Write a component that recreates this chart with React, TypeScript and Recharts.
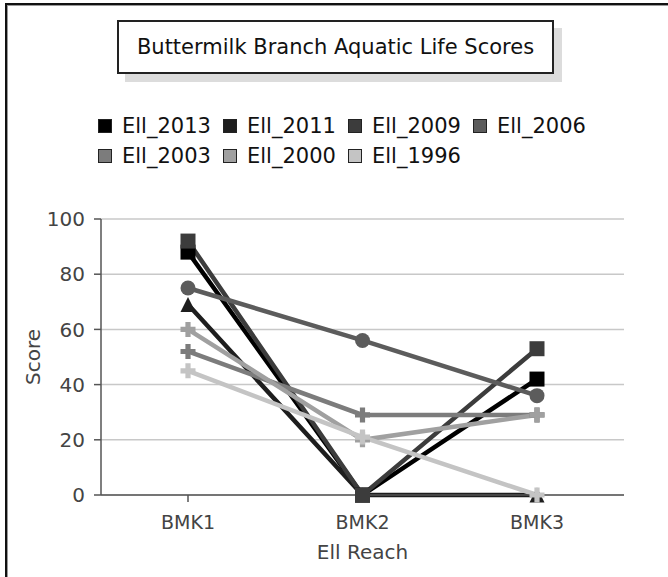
import React from 'react';
import { LineChart, Line, XAxis, YAxis, CartesianGrid, Legend } from 'recharts';

const categories = ['BMK1', 'BMK2', 'BMK3'];
const ell2013 = [88, 0, 42];
const ell2011 = [69, 0, 0];
const ell2009 = [92, 0, 53];
const ell2006 = [75, 56, 36];
const ell2003 = [52, 29, 29];
const ell2000 = [60, 20, 29];
const ell1996 = [45, 21, 0];
const seriesNames = ['Ell_2013', 'Ell_2011', 'Ell_2009', 'Ell_2006', 'Ell_2003', 'Ell_2000', 'Ell_1996'];
const seriesValues = [ell2013, ell2011, ell2009, ell2006, ell2003, ell2000, ell1996];
const seriesColors = ['#000000', '#1e1e1e', '#3c3c3c', '#5c5c5c', '#7c7c7c', '#a0a0a0', '#c4c4c4'];
const seriesShapes = ['square', 'triangle', 'square', 'circle', 'plus', 'plus', 'plus'];
const yTicks = [0, 20, 40, 60, 80, 100];
const chartTitle = 'Buttermilk Branch Aquatic Life Scores';
const xTitle = 'Ell Reach';
const yTitle = 'Score';

const data = categories.map((c, i) => {
  const row: any = { reach: c };
  seriesNames.forEach((n, s) => {
    row[n] = seriesValues[s][i];
  });
  return row;
});

const FONT = '"DejaVu Sans", sans-serif';

function makeDot(shape: string, color: string) {
  return (props: any) => {
    const { cx, cy, index } = props;
    if (cx == null || cy == null) return <g key={`d-${index}`} />;
    const h = 7.5;
    if (shape === 'square') {
      return <rect key={`d-${index}`} x={cx - h} y={cy - h} width={2 * h} height={2 * h} fill={color} />;
    }
    if (shape === 'circle') {
      return <circle key={`d-${index}`} cx={cx} cy={cy} r={h} fill={color} />;
    }
    if (shape === 'triangle') {
      return (
        <polygon
          key={`d-${index}`}
          points={`${cx},${cy - h} ${cx + h},${cy + h} ${cx - h},${cy + h}`}
          fill={color}
        />
      );
    }
    const a = 2.6;
    return (
      <path
        key={`d-${index}`}
        d={`M${cx - a},${cy - h}H${cx + a}V${cy - a}H${cx + h}V${cy + a}H${cx + a}V${cy + h}H${cx - a}V${cy + a}H${cx - h}V${cy - a}H${cx - a}Z`}
        fill={color}
      />
    );
  };
}

const renderLegend = (props: any) => {
  const payload: any[] = props.payload || [];
  const items = seriesNames.map((n, i) => {
    const p = payload.find((q: any) => q.value === n || q.dataKey === n);
    return { value: n, color: (p && p.color) || seriesColors[i] };
  });
  return (
    <div style={{ display: 'flex', flexWrap: 'wrap', width: 520, fontFamily: FONT, fontSize: 21, color: '#111' }}>
      {items.map((p: any, i: number) => (
        <div key={i} style={{ width: 125, height: 30, display: 'flex', alignItems: 'center' }}>
          <div style={{ width: 12, height: 12, background: p.color, border: '1.5px solid #222', marginRight: 10, flex: 'none' }} />
          <span style={{ whiteSpace: 'nowrap' }}>{p.value}</span>
        </div>
      ))}
    </div>
  );
};

const YLabel = (props: any) => {
  const vb = props.viewBox || { x: 0, y: 219, width: 101, height: 276 };
  const x = 33;
  const y = vb.y + vb.height / 2;
  return (
    <text x={x} y={y} transform={`rotate(-90 ${x} ${y})`} textAnchor="middle" dominantBaseline="central" fontFamily={FONT} fontSize={20} fill="#444">
      {yTitle}
    </text>
  );
};

const XLabel = (props: any) => {
  const vb = props.viewBox || { x: 101, y: 495, width: 523, height: 82 };
  const x = vb.x + vb.width / 2;
  return (
    <text x={x} y={552} textAnchor="middle" dominantBaseline="central" fontFamily={FONT} fontSize={20} fill="#444">
      {xTitle}
    </text>
  );
};

export default function App() {
  return (
    <div style={{ position: 'absolute', left: 0, top: 0, width: 668, height: 577, background: '#fff', overflow: 'hidden' }}>
      <div style={{ position: 'absolute', left: 5, top: 3, width: 700, height: 620, borderTop: '2px solid #111', borderLeft: '2px solid #111', boxShadow: 'inset 1px 1px 0 #999' }} />
      <LineChart width={668} height={577} data={data} margin={{ top: 219, right: 44, bottom: 0, left: 0 }}>
        <CartesianGrid horizontal vertical={false} stroke="#c8c8c8" strokeWidth={1.5} />
        <XAxis
          dataKey="reach"
          type="category"
          padding={{ left: 87, right: 87 }}
          height={82}
          stroke="#555"
          strokeWidth={1.5}
          tickSize={7}
          tickMargin={14}
          interval={0}
          tick={{ fontFamily: FONT, fontSize: 19, fill: '#444' }}
          label={{ content: <XLabel /> } as any}
        />
        <YAxis
          type="number"
          domain={[0, 100]}
          ticks={yTicks}
          interval={0}
          width={101}
          stroke="#555"
          strokeWidth={1.5}
          tickSize={7}
          tickMargin={9}
          tick={{ fontFamily: FONT, fontSize: 20, fill: '#444' }}
          label={{ content: <YLabel /> } as any}
        />
        <Legend
          content={renderLegend}
          layout="horizontal"
          verticalAlign="middle"
          align="center"
          wrapperStyle={{ position: 'absolute', left: 98, top: 111, width: 520 }}
        />
        {seriesNames.map((n, i) => (
          <Line
            key={n}
            type="linear"
            dataKey={n}
            name={n}
            stroke={seriesColors[i]}
            fill={seriesColors[i]}
            strokeWidth={4.5}
            dot={makeDot(seriesShapes[i], seriesColors[i])}
            activeDot={false}
            isAnimationActive={false}
          />
        ))}
      </LineChart>
      <div
        style={{
          position: 'absolute',
          left: 117,
          top: 20,
          width: 433,
          height: 50,
          border: '2px solid #222',
          boxShadow: '8px 8px 0 #dcdcdc',
          background: '#fff',
          display: 'flex',
          alignItems: 'center',
          justifyContent: 'center',
          fontFamily: FONT,
          fontSize: 21,
          color: '#111',
          whiteSpace: 'nowrap',
        }}
      >
        {chartTitle}
      </div>
    </div>
  );
}
